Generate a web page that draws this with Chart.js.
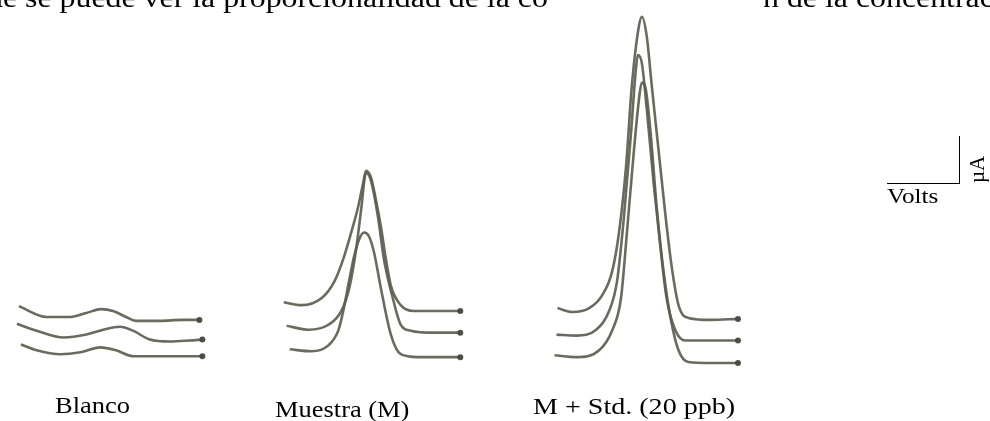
<!DOCTYPE html>
<html>
<head>
<meta charset="utf-8">
<script src="https://cdn.jsdelivr.net/npm/chart.js@4"></script>
<style>
    body { margin: 0; background: #fff; }
    #wrap { position: relative; width: 990px; height: 421px; overflow: hidden; }
    #chart { position: absolute; left: 0; top: 0; }
    .txt { position: absolute; font-family: "Liberation Serif", "Times New Roman", serif; color: #000; white-space: nowrap; line-height: normal; transform-origin: 0 0; }
    #scalebar { position: absolute; left: 887px; top: 136px; width: 72px; height: 47px; border-right: 1.5px solid #000; border-bottom: 1.5px solid #000; }
</style>
</head>
<body>
<div id="wrap">
    <canvas id="chart" width="990" height="421"></canvas>
    <div class="txt" style="left:-13px; top:-17px; font-size:27px; transform: scaleX(1.18);">de se puede ver la proporcionalidad de la co</div>
    <div class="txt" style="left:763px; top:-17px; font-size:27px; transform: scaleX(1.18);">n de la concentrac</div>
    <div id="scalebar"></div>
    <div class="txt" style="left:887px; top:184px; font-size:21px; transform: scaleX(1.2);">Volts</div>
    <div class="txt" style="left:965px; top:183px; font-size:21px; transform: rotate(-90deg);">µA</div>
</div>
<script>
// Etiquetas de cada grupo de voltamperogramas
const panelLabels = ['Blanco', 'Muestra (M)', 'M + Std. (20 ppb)'];

// Blanco: tres barridos (potencial, corriente)
const blancoPot = [
    [15, 43, 67, 83, 98, 110, 123, 133, 157, 180, 197],
    [13, 33, 60, 83, 100, 117, 130, 147, 167, 187, 200],
    [17, 33, 57, 77, 97, 113, 130, 150, 177, 200]
];
const blancoCur = [
    [308, 319, 319, 315, 311, 313, 319, 323, 323, 322, 322],
    [326, 333, 340, 337, 332, 329, 333, 342, 344, 343, 342],
    [347, 353, 357, 355, 350, 353, 359, 359, 359, 359]
];

// Muestra (M)
const muestraPot = [
    [282, 300, 320, 333, 342, 350, 357, 362, 365, 370, 375, 380, 385, 390, 400, 413, 430, 447, 460],
    [285, 307, 327, 340, 348, 355, 360, 365, 370, 377, 383, 392, 400, 410, 433, 460],
    [288, 310, 327, 337, 342, 347, 353, 358, 363, 368, 373, 380, 390, 400, 417, 440, 460]
];
const muestraCur = [
    [304, 307, 300, 283, 260, 233, 207, 183, 170, 177, 200, 227, 260, 287, 307, 313, 313, 313, 313],
    [328, 332, 327, 313, 290, 250, 210, 172, 180, 217, 260, 300, 327, 333, 335, 335],
    [352, 354, 348, 333, 313, 287, 257, 240, 233, 237, 253, 290, 337, 357, 360, 360, 360]
];

// M + Std. (20 ppb)
const stdPot = [
    [558, 573, 590, 603, 613, 620, 627, 633, 640, 643, 648, 653, 660, 667, 673, 680, 690, 713, 740],
    [557, 577, 597, 610, 618, 625, 632, 637, 639, 643, 648, 655, 662, 668, 677, 687, 713, 740],
    [555, 577, 600, 613, 622, 628, 635, 641, 643, 647, 652, 658, 665, 672, 680, 690, 713, 740]
];
const stdCur = [
    [310, 314, 310, 297, 273, 233, 167, 83, 23, 13, 33, 83, 150, 217, 267, 307, 320, 322, 321],
    [337, 338, 332, 313, 283, 217, 133, 67, 52, 60, 107, 183, 250, 300, 333, 343, 343, 343],
    [358, 360, 353, 333, 300, 233, 150, 90, 80, 87, 133, 207, 273, 320, 353, 365, 366, 366]
];

// Posicion de las etiquetas (x izquierda, linea base, estiramiento horizontal)
const labelPos = [[55, 413, 1.15], [275, 417, 1.15], [533, 414, 1.22]];

function makeSets(pots, curs) {
    return pots.map((pot, k) => ({
        data: pot.map((x, i) => ({ x: x, y: curs[k][i] })),
        showLine: true,
        borderColor: 'rgba(92, 94, 78, 0.92)',
        backgroundColor: 'rgba(70, 72, 62, 0.95)',
        borderWidth: 2.6,
        cubicInterpolationMode: 'monotone',
        pointRadius: ctx => ctx.dataIndex === pot.length - 1 ? 3 : 0,
        pointBorderWidth: 0
    }));
}

const datasets = [
    ...makeSets(blancoPot, blancoCur),
    ...makeSets(muestraPot, muestraCur),
    ...makeSets(stdPot, stdCur)
];

new Chart(document.getElementById('chart'), {
    type: 'scatter',
    data: { datasets: datasets },
    options: {
        responsive: false,
        animation: false,
        layout: { padding: 0 },
        plugins: { legend: { display: false }, tooltip: { enabled: false } },
        scales: {
            x: { type: 'linear', min: 0, max: 990, display: false },
            y: { type: 'linear', min: 0, max: 421, reverse: true, display: false }
        }
    }
});

// Etiquetas debajo de cada grupo
const wrap = document.getElementById('wrap');
panelLabels.forEach((txt, i) => {
    const d = document.createElement('div');
    d.className = 'txt';
    d.style.fontSize = '23px';
    d.style.left = labelPos[i][0] + 'px';
    d.style.top = (labelPos[i][1] - 0.891 * 23) + 'px';
    d.style.transform = 'scaleX(' + labelPos[i][2] + ')';
    d.textContent = txt;
    wrap.appendChild(d);
});
</script>
</body>
</html>
